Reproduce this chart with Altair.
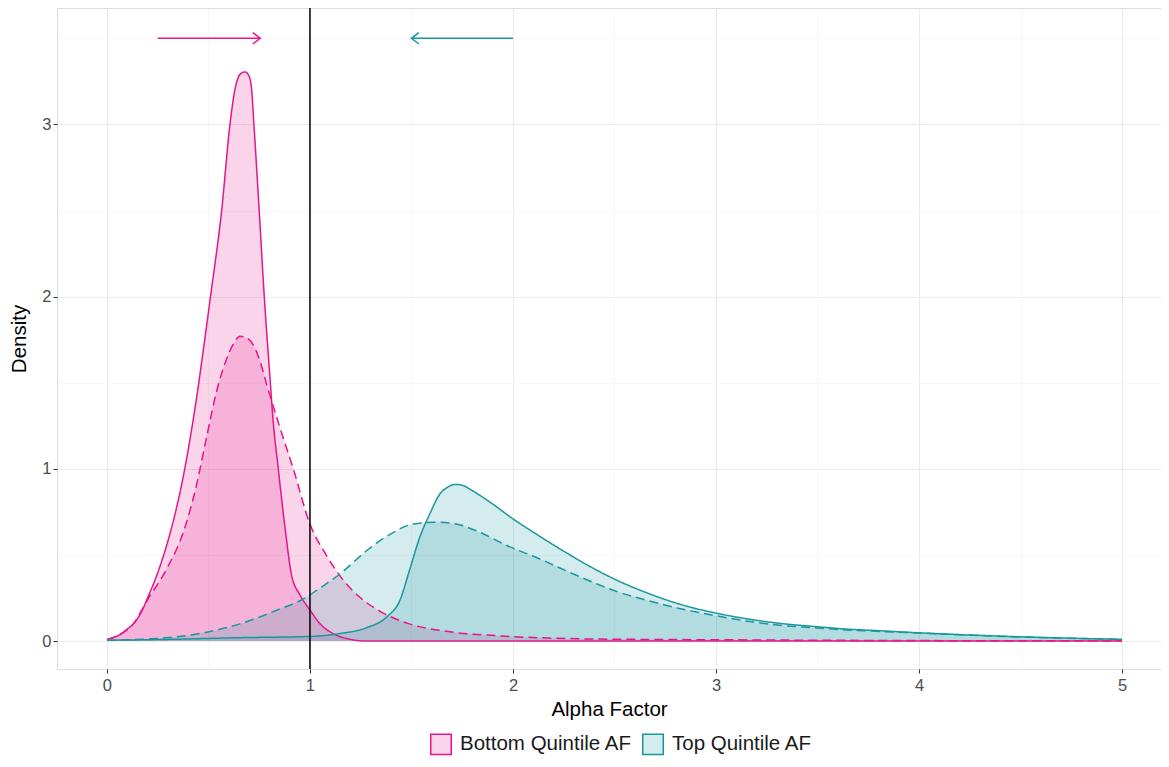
import altair as alt
import pandas as pd

groups = ["Bottom Quintile AF", "Top Quintile AF"]
line_colors = ["#E6168A", "#17979E"]
fill_colors = ["rgba(230,22,138,0.18)", "rgba(23,151,158,0.18)"]
kinds = ["solid", "dashed"]

# Bottom quintile, solid curve
bs_x = [0.0, 0.03, 0.06, 0.1, 0.13, 0.17, 0.2, 0.26, 0.30, 0.34, 0.38, 0.42, 0.45, 0.47, 0.51, 0.565,
        0.606, 0.63, 0.655, 0.68, 0.70, 0.713, 0.724, 0.75, 0.775, 0.80, 0.82, 0.844, 0.877, 0.91,
        0.95, 1.0, 1.05, 1.12, 1.2, 1.28, 1.5, 2.0, 3.0, 4.0, 5.0]
bs_y = [0.01, 0.02, 0.035, 0.07, 0.10, 0.17, 0.25, 0.43, 0.58, 0.76, 0.98, 1.25, 1.48, 1.65, 2.0, 2.5,
        3.0, 3.2, 3.29, 3.305, 3.28, 3.2, 3.0, 2.5, 2.0, 1.58, 1.26, 1.0, 0.66, 0.38, 0.27,
        0.18, 0.10, 0.04, 0.01, 0.0, 0.0, 0.0, 0.0, 0.0, 0.0]

# Bottom quintile, dashed curve
bd_x = [0.0, 0.06, 0.13, 0.2, 0.29, 0.384, 0.44, 0.49, 0.54, 0.59, 0.625, 0.655, 0.69, 0.72, 0.75,
        0.787, 0.852, 0.918, 1.0, 1.08, 1.16, 1.25, 1.35, 1.49, 1.69, 1.94, 2.26, 2.6, 3.0, 3.5, 4.0,
        4.5, 5.0]
bd_y = [0.01, 0.035, 0.10, 0.24, 0.41, 0.66, 0.90, 1.18, 1.45, 1.64, 1.73, 1.77, 1.76, 1.72, 1.64,
        1.49, 1.24, 1.0, 0.68, 0.50, 0.36, 0.25, 0.17, 0.10, 0.054, 0.03, 0.015, 0.01, 0.008, 0.005,
        0.003, 0.002, 0.001]

# Top quintile, solid curve
ts_x = [0.0, 0.3, 0.655, 1.0, 1.148, 1.28, 1.378, 1.443, 1.49, 1.54, 1.59, 1.64, 1.68, 1.714, 1.75,
        1.80, 1.90, 2.0, 2.13, 2.26, 2.40, 2.5, 2.66, 2.82, 2.99, 3.15, 3.315, 3.48, 3.64, 3.81,
        4.0, 4.5, 5.0]
ts_y = [0.005, 0.01, 0.02, 0.027, 0.044, 0.078, 0.14, 0.237, 0.41, 0.60, 0.738, 0.854, 0.895, 0.91,
        0.905, 0.873, 0.796, 0.71, 0.61, 0.515, 0.42, 0.36, 0.28, 0.215, 0.165, 0.13, 0.103, 0.085,
        0.07, 0.06, 0.048, 0.025, 0.01]

# Top quintile, dashed curve
td_x = [0.0, 0.245, 0.458, 0.655, 0.836, 0.984, 1.033, 1.148, 1.28, 1.394, 1.51, 1.624, 1.72, 1.837,
        1.97, 2.13, 2.297, 2.43, 2.494, 2.659, 2.82, 2.987, 3.15, 3.315, 3.48, 3.64, 3.81, 4.0, 4.5, 5.0]
td_y = [0.005, 0.015, 0.044, 0.10, 0.179, 0.256, 0.295, 0.39, 0.526, 0.62, 0.68, 0.69, 0.68, 0.632,
        0.555, 0.478, 0.39, 0.324, 0.295, 0.237, 0.189, 0.150, 0.117, 0.092, 0.078, 0.065, 0.056,
        0.047, 0.024, 0.01]

# Reference line and arrows
vline_x = [1.0]
arrow_group = groups
arrow_dir = ["right", "left"]
arrow_x_start = [0.25, 2.0]
arrow_x_end = [0.755, 1.5]
arrow_y = [3.5, 3.5]

x_ticks = [0, 0.5, 1, 1.5, 2, 2.5, 3, 3.5, 4, 4.5, 5]
y_ticks = [0, 0.5, 1, 1.5, 2, 2.5, 3, 3.5]

rows = []
for g, k, xs, ys in [(groups[0], "solid", bs_x, bs_y), (groups[0], "dashed", bd_x, bd_y),
                     (groups[1], "solid", ts_x, ts_y), (groups[1], "dashed", td_x, td_y)]:
    for xv, yv in zip(xs, ys):
        rows.append({"group": g, "kind": k, "series": g + " " + k, "x": xv, "y": yv})
df = pd.DataFrame(rows)
arrows = pd.DataFrame({"agroup": arrow_group, "dir": arrow_dir, "x": arrow_x_start,
                       "x_end": arrow_x_end, "y": arrow_y})
vdf = pd.DataFrame({"x": vline_x})

FONT = "Liberation Sans"
minor_test = "datum.value % 1 !== 0"
label_expr = "datum.value % 1 === 0 ? format(datum.value, 'd') : ''"

x_scale = alt.Scale(domain=[-0.246, 5.192], nice=False, zero=False)
y_scale = alt.Scale(domain=[-0.162, 3.676], nice=False, zero=False)

common = dict(
    grid=True, domain=False, labelExpr=label_expr,
    gridColor={"condition": {"test": minor_test, "value": "#F4F4F4"}, "value": "#EBEBEB"},
    gridWidth={"condition": {"test": minor_test, "value": 0.7}, "value": 1.1},
    tickOpacity={"condition": {"test": minor_test, "value": 0}, "value": 1},
    tickColor="#333333", tickSize=4, tickWidth=1,
    labelFont=FONT, labelFontSize=16.5, labelColor="#4D4D4D",
    titleFont=FONT, titleFontSize=20.5, titleColor="#000000", titleFontWeight="normal",
)
x_axis = alt.Axis(values=x_ticks, title="Alpha Factor", labelPadding=4, titlePadding=6, **common)
y_axis = alt.Axis(values=y_ticks, title="Density", labelPadding=2, titlePadding=12, **common)

legend = alt.Legend(
    title=None, orient="none", legendX=373, legendY=725, direction="horizontal",
    symbolType="square", symbolSize=420, symbolStrokeWidth=1.5, labelLimit=400,
    labelFont=FONT, labelFontSize=20.5, labelColor="#1A1A1A", labelOffset=8, columnPadding=6,
)

fill_scale = alt.Scale(domain=groups, range=fill_colors)
stroke_scale = alt.Scale(domain=groups, range=line_colors)

X = alt.X("x:Q", scale=x_scale, axis=x_axis)
Y = alt.Y("y:Q", scale=y_scale, axis=y_axis, stack=None)

areas = alt.Chart(df).mark_area(interpolate="monotone").encode(
    x=X, y=Y,
    fill=alt.Fill("group:N", scale=fill_scale, legend=legend),
    detail="series:N",
)

lines = alt.Chart(df).mark_line(interpolate="monotone", strokeWidth=1.5).encode(
    x=X, y=Y,
    stroke=alt.Stroke("group:N", scale=stroke_scale, legend=legend),
    strokeDash=alt.StrokeDash("kind:N", scale=alt.Scale(domain=kinds, range=[[1, 0], [9, 5]]), legend=None),
    detail="series:N",
)

vline = alt.Chart(vdf).mark_rule(color="#000000", strokeWidth=1.5).encode(x=X)

arrow_lines = alt.Chart(arrows).mark_rule(strokeWidth=1.5).encode(
    x=X, x2="x_end:Q", y=Y,
    color=alt.Color("agroup:N", scale=alt.Scale(domain=groups, range=line_colors), legend=None),
)

arrow_heads = alt.Chart(arrows).mark_point(filled=False, size=130, strokeWidth=1.5, opacity=1).encode(
    x=alt.X("x_end:Q", scale=x_scale, axis=x_axis), y=Y,
    color=alt.Color("agroup:N", scale=alt.Scale(domain=groups, range=line_colors), legend=None),
    shape=alt.Shape("dir:N", scale=alt.Scale(domain=["right", "left"],
                    range=["M-1.3,-1L0,0L-1.3,1", "M1.3,-1L0,0L1.3,1"]), legend=None),
)

chart = alt.layer(areas, lines, vline, arrow_lines, arrow_heads).properties(
    width=1104, height=661,
    autosize=alt.AutoSizeParams(type="none"),
    padding={"left": 49, "top": 0, "right": 0, "bottom": 90},
).configure_view(
    stroke="#666666", strokeWidth=1.2
).configure(background="#FFFFFF")

chart.save("out.html", embed_options={"renderer": "svg", "actions": False})
